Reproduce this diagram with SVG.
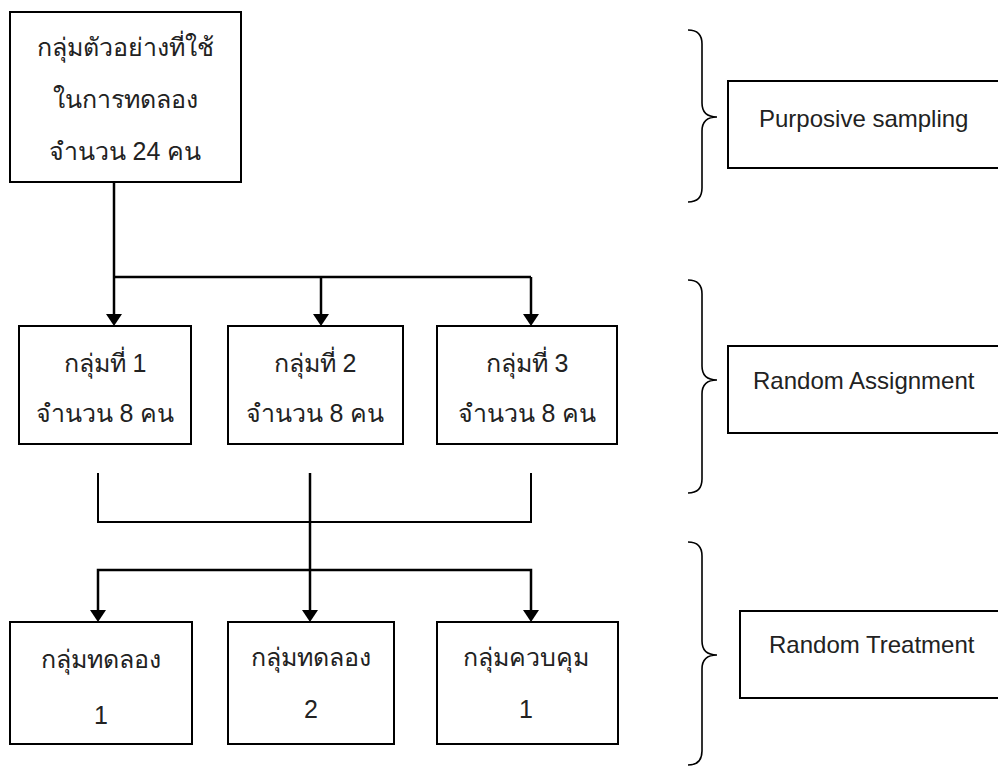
<svg xmlns="http://www.w3.org/2000/svg" width="998" height="767" viewBox="0 0 998 767">
  <style>
    .box { fill: #ffffff; stroke: #000000; stroke-width: 2; }
    .th { font-family: "Liberation Sans", "Noto Sans", sans-serif; font-size: 25px; fill: #222222; text-anchor: middle; }
    .en { font-family: "Liberation Sans", "Noto Sans", sans-serif; font-size: 24px; fill: #222222; }
    .wire { fill: none; stroke: #000000; stroke-width: 2.5; }
    .thin { fill: none; stroke: #000000; stroke-width: 2; }
    .brace { fill: none; stroke: #000000; stroke-width: 1.6; }
  </style>

  <!-- connectors -->
  <g id="connectors">
    <!-- sample split into three groups -->
    <path class="wire" d="M114,182 L114,314"/>
    <path class="wire" d="M114,277 L531,277"/>
    <path class="wire" d="M321,277 L321,314"/>
    <path class="wire" d="M531,277 L531,314"/>
    <g fill="#000000">
      <path d="M106,314 L122,314 L114,326 Z"/>
      <path d="M313,314 L329,314 L321,326 Z"/>
      <path d="M523,314 L539,314 L531,326 Z"/>
    </g>
    <!-- groups merged then assigned to treatments -->
    <path class="thin" d="M98,473 L98,522 L531,522 L531,473"/>
    <path class="wire" d="M310,473 L310,610"/>
    <path class="wire" d="M98,610 L98,570 L531,570 L531,610"/>
    <g fill="#000000">
      <path d="M90,610 L106,610 L98,622 Z"/>
      <path d="M302,610 L318,610 L310,622 Z"/>
      <path d="M523,610 L539,610 L531,622 Z"/>
    </g>
  </g>

  <!-- sample -->
  <g id="sample">
    <rect class="box" x="10" y="12" width="231" height="170"/>
    <text class="th" x="125" y="56">กลุ่มตัวอย่างที่ใช้</text>
    <text class="th" x="125" y="108">ในการทดลอง</text>
    <text class="th" x="125" y="160">จำนวน 24 คน</text>
  </g>

  <!-- three random groups -->
  <g id="group1">
    <rect class="box" x="19" y="326" width="172" height="118"/>
    <text class="th" x="105" y="372">กลุ่มที่ 1</text>
    <text class="th" x="105" y="422">จำนวน 8 คน</text>
  </g>
  <g id="group2">
    <rect class="box" x="228" y="326" width="175" height="118"/>
    <text class="th" x="315" y="372">กลุ่มที่ 2</text>
    <text class="th" x="315" y="422">จำนวน 8 คน</text>
  </g>
  <g id="group3">
    <rect class="box" x="437" y="326" width="180" height="118"/>
    <text class="th" x="527" y="372">กลุ่มที่ 3</text>
    <text class="th" x="527" y="422">จำนวน 8 คน</text>
  </g>

  <!-- treatment groups -->
  <g id="experiment1">
    <rect class="box" x="10" y="622" width="182" height="122"/>
    <text class="th" x="101" y="668">กลุ่มทดลอง</text>
    <text class="th" x="101" y="724">1</text>
  </g>
  <g id="experiment2">
    <rect class="box" x="228" y="622" width="166" height="122"/>
    <text class="th" x="311" y="666">กลุ่มทดลอง</text>
    <text class="th" x="311" y="718">2</text>
  </g>
  <g id="control1">
    <rect class="box" x="437" y="622" width="181" height="122"/>
    <text class="th" x="526" y="666">กลุ่มควบคุม</text>
    <text class="th" x="526" y="718">1</text>
  </g>

  <!-- stage braces -->
  <g id="brace-sampling">
    <path class="brace" d="M688,30 Q702,30 702,44 L702,103 Q702,117 717,117 Q702,117 702,131 L702,188 Q702,202 688,202"/>
  </g>
  <g id="brace-assignment">
    <path class="brace" d="M688,280 Q702,280 702,294 L702,366 Q702,380 717,380 Q702,380 702,394 L702,479 Q702,493 688,493"/>
  </g>
  <g id="brace-treatment">
    <path class="brace" d="M688,542 Q702,542 702,556 L702,641 Q702,655 717,655 Q702,655 702,669 L702,751 Q702,765 688,765"/>
  </g>

  <!-- stage labels -->
  <g id="purposive-sampling">
    <rect class="box" x="728" y="81" width="280" height="87"/>
    <text class="en" x="759" y="127">Purposive sampling</text>
  </g>
  <g id="random-assignment">
    <rect class="box" x="728" y="346" width="280" height="87"/>
    <text class="en" x="753" y="389">Random Assignment</text>
  </g>
  <g id="random-treatment">
    <rect class="box" x="740" y="611" width="268" height="87"/>
    <text class="en" x="769" y="653">Random Treatment</text>
  </g>
</svg>
